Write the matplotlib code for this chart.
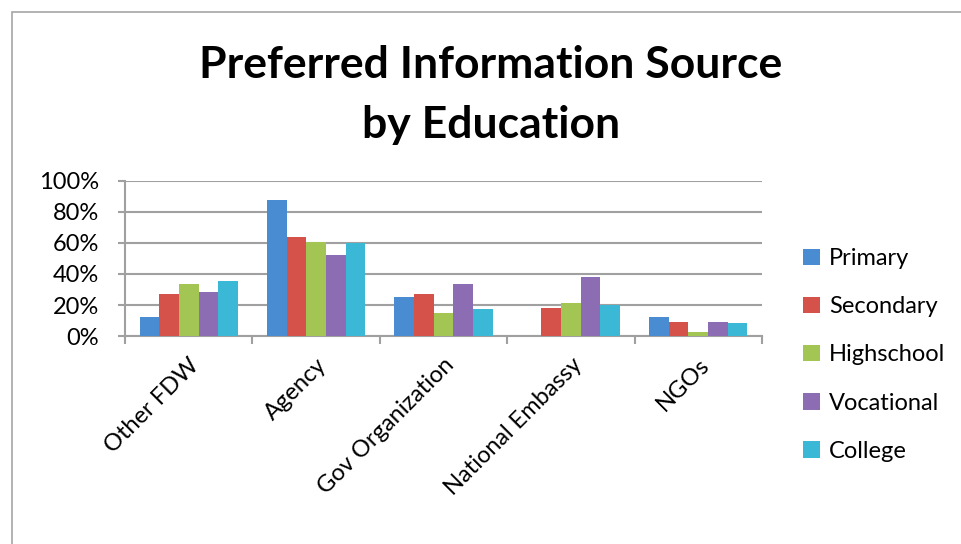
import numpy as np
import matplotlib
matplotlib.use('Agg')
import matplotlib.pyplot as plt
from matplotlib.patches import Rectangle
from matplotlib.transforms import ScaledTranslation

plt.rcParams['font.family'] = ['Lato', 'DejaVu Sans']

categories = ['Other FDW', 'Agency', 'Gov Organization', 'National Embassy', 'NGOs']
levels = ['Primary', 'Secondary', 'Highschool', 'Vocational', 'College']
primary = [12.5, 87.5, 25.1, 0.0, 12.2]
secondary = [27.0, 63.7, 27.0, 18.2, 9.0]
highschool = [33.5, 60.5, 14.8, 21.2, 2.6]
vocational = [28.3, 52.1, 33.5, 38.0, 9.0]
college = [35.4, 59.9, 17.4, 20.0, 8.4]
series = [primary, secondary, highschool, vocational, college]
colors = ['#4A8CD2', '#D5524A', '#A3C553', '#8C6DB3', '#3BB8D6']

fig = plt.figure(figsize=(9.62, 5.44), dpi=100)
# chart frame
fig.patches.append(Rectangle((12 / 962, -0.1), 1.1, (544 - 12) / 544 + 0.1,
                             transform=fig.transFigure, fill=False,
                             edgecolor='#a6a6a6', lw=1.2))

ax = fig.add_axes([0.130, 0.382, 0.662, 0.286])
x = np.arange(len(categories))
w = 0.154
for i, (vals, c, lab) in enumerate(zip(series, colors, levels)):
    ax.bar(x + (i - 2) * w, vals, width=w, color=c, label=lab, zorder=3)

ax.set_xlim(-0.5, len(categories) - 0.5)
ax.set_ylim(0, 100)
ax.set_yticks(np.arange(0, 101, 20))
ax.set_yticklabels([f'{v}%' for v in range(0, 101, 20)], fontsize=17)
ax.yaxis.grid(True, color='#a0a0a0', lw=1.5, zorder=0)
ax.set_xticks(x)
ax.set_xticklabels(categories, rotation=45, ha='right', rotation_mode='anchor', fontsize=17)
offset = ScaledTranslation(-0.25, 0, fig.dpi_scale_trans)
for t in ax.get_xticklabels():
    t.set_transform(t.get_transform() + offset)
ax.set_xticks(np.arange(-0.5, len(categories)), minor=True)
ax.tick_params(axis='x', which='major', length=0, pad=13)
ax.tick_params(axis='x', which='minor', length=6, color='#a0a0a0', width=1.5)
ax.tick_params(axis='y', length=5, color='#a0a0a0', width=1.5, pad=14)
for s in ['top', 'right']:
    ax.spines[s].set_visible(False)
for s in ['left', 'bottom']:
    ax.spines[s].set_color('#a0a0a0')
    ax.spines[s].set_linewidth(1.5)

fig.text(0.51, 0.88, 'Preferred Information Source', ha='center', va='center',
         fontsize=32, fontweight='bold')
fig.text(0.51, 0.77, 'by Education', ha='center', va='center',
         fontsize=32, fontweight='bold')

ax.legend(loc='center left', bbox_to_anchor=(1.05, 0.5 - 0.62), frameon=False,
          fontsize=17, handlelength=0.7, handleheight=0.7, labelspacing=1.15,
          handletextpad=0.4, borderaxespad=0)

fig.savefig('out.png', dpi=100)
